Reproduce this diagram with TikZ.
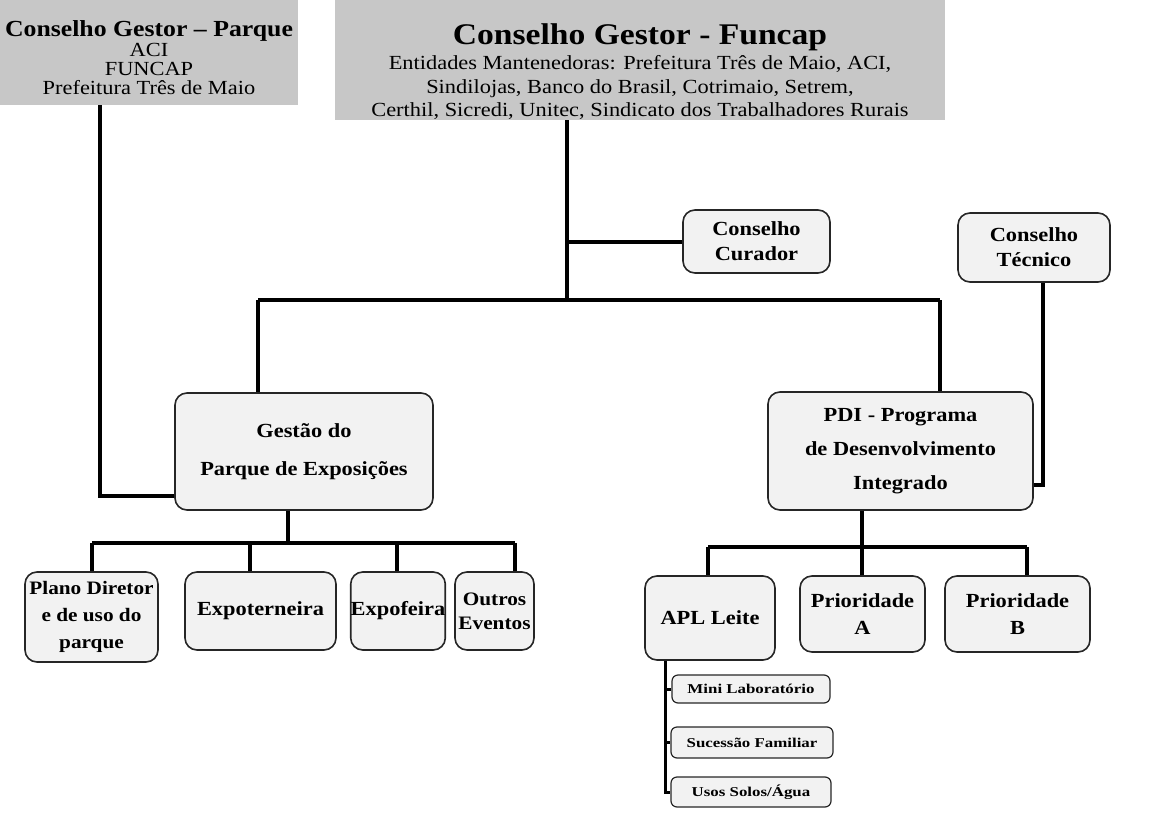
\documentclass[tikz,border=0pt]{standalone}
\usepackage{fontspec}
\setmainfont{Liberation Serif}[FakeStretch=1.12]
\newfontfamily\listfont{Liberation Serif}[FakeStretch=1.25]

\begin{document}
\begin{tikzpicture}[x=1pt, y=-1pt]

    \tikzstyle{header} = [rectangle, fill=black!22, align=center, inner sep=0pt]
    \tikzstyle{block} = [rectangle, draw=black!85, line width=1.6pt, fill=black!5, rounded corners=12pt, align=center, inner sep=0pt, font=\fontsize{20}{25}\selectfont\bfseries]
    \tikzstyle{item} = [rectangle, draw=black!85, line width=1.2pt, fill=black!5, rounded corners=6pt, inner sep=0pt, font=\listfont\fontsize{13.5}{15}\selectfont\bfseries]
    \tikzstyle{link} = [line width=4pt]

    \useasboundingbox (0,0) rectangle (1153,821);

    % councils on top
    \node[header, minimum width=298pt, minimum height=105pt, font=\fontsize{20}{19}\selectfont] (parque) at (149,52.5)
        {{\fontsize{23}{24}\selectfont\bfseries\rule{0pt}{26pt}Conselho Gestor -- Parque}\\[1pt] ACI\\ FUNCAP\\ Prefeitura Três de Maio};
    \node[header, minimum width=610pt, minimum height=120pt, font=\fontsize{20}{23.5}\selectfont] (funcap) at (640,60)
        {{\fontsize{30}{32}\selectfont\bfseries\rule{0pt}{44pt}Conselho Gestor - Funcap}\\[2pt]
         Entidades Mantenedoras: Prefeitura Três de Maio, ACI,\\
         Sindilojas, Banco do Brasil, Cotrimaio, Setrem,\\
         Certhil, Sicredi, Unitec, Sindicato dos Trabalhadores Rurais};

    \node[block, minimum width=147pt, minimum height=63pt] (curador) at (756.5,241.5) {Conselho\\ Curador};
    \node[block, minimum width=152pt, minimum height=69pt] (tecnico) at (1034,247.5) {Conselho\\ Técnico};

    % main areas
    \node[block, minimum width=258pt, minimum height=117pt, font=\fontsize{20}{38}\selectfont\bfseries] (gestao) at (304,451.5) {Gestão do\\ Parque de Exposições};
    \node[block, minimum width=265pt, minimum height=118pt, font=\fontsize{20}{34}\selectfont\bfseries] (pdi) at (900.5,451) {PDI - Programa\\ de Desenvolvimento\\ Integrado};

    % park activities
    \node[block, minimum width=133pt, minimum height=90pt, font=\fontsize{19}{27}\selectfont\bfseries] (plano) at (91.5,617) {Plano Diretor\\ e de uso do\\ parque};
    \node[block, minimum width=151pt, minimum height=78pt] (expoterneira) at (260.5,611) {Expoterneira};
    \node[block, minimum width=94pt, minimum height=78pt] (expofeira) at (398,611) {Expofeira};
    \node[block, minimum width=79pt, minimum height=78pt, font=\fontsize{19}{24}\selectfont\bfseries] (outros) at (494.5,611) {Outros\\ Eventos};

    % PDI activities
    \node[block, minimum width=130pt, minimum height=84pt] (apl) at (710,618) {APL Leite};
    \node[block, minimum width=125pt, minimum height=76pt, font=\fontsize{20}{27}\selectfont\bfseries] (prioA) at (862.5,614) {Prioridade\\ A};
    \node[block, minimum width=145pt, minimum height=76pt, font=\fontsize{20}{27}\selectfont\bfseries] (prioB) at (1017.5,614) {Prioridade\\ B};

    \node[item, minimum width=158pt, minimum height=28pt] (mini) at (751,689) {Mini Laboratório};
    \node[item, minimum width=162pt, minimum height=31pt] (sucessao) at (752,742.5) {Sucessão Familiar};
    \node[item, minimum width=160pt, minimum height=30pt] (usos) at (751,792) {Usos Solos/Água};

    % connectors
    \draw[link] ([xshift=-49pt]parque.south) |- ([yshift=-44pt]gestao.west);

    \coordinate (trunk) at (567,300);
    \coordinate (busL) at (258,300);
    \coordinate (busR) at (940,300);
    \draw[link] (funcap.south -| trunk) -- (trunk);
    \draw[link] (curador.west -| trunk) -- (curador.west);
    \draw[link] (busL) -- (busR);
    \draw[link] (busL) -- (busL |- gestao.north);
    \draw[link] (busR) -- (busR |- pdi.north);
    \draw[link] ([xshift=9pt]tecnico.south) |- ([yshift=-34pt]pdi.east);

    \coordinate (gbus) at (288,543);
    \draw[link] (gbus |- gestao.south) -- (gbus);
    \draw[link] (92,543) -- (515,543);
    \foreach \x/\n in {92/plano, 250/expoterneira, 397/expofeira, 515/outros} {
        \coordinate (d) at (\x,543);
        \draw[link] (d) -- (d |- \n.north);
    }

    \coordinate (pbus) at (862,547);
    \draw[link] (pbus |- pdi.south) -- (pbus);
    \draw[link] (708,547) -- (1027,547);
    \foreach \x/\n in {708/apl, 862/prioA, 1027/prioB} {
        \coordinate (d) at (\x,547);
        \draw[link] (d) -- (d |- \n.north);
    }

    \coordinate (sub) at (665,0);
    \draw[line width=3pt] (apl.south -| sub) |- (usos.west);
    \draw[line width=3pt] (mini.west -| sub) -- (mini.west);
    \draw[line width=3pt] (sucessao.west -| sub) -- (sucessao.west);

\end{tikzpicture}
\end{document}
